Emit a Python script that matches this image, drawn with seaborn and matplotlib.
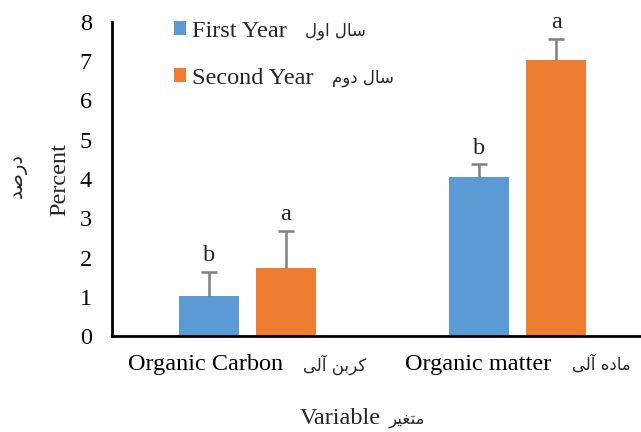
import matplotlib
matplotlib.use("Agg")
import matplotlib.pyplot as plt
import matplotlib.transforms as mtransforms
import seaborn as sns
import pandas as pd
from matplotlib.patches import Patch

# ---- data ----
categories_en = ["Organic Carbon", "Organic matter"]
categories_fa = ["کربن آلی", "ماده آلی"]
years_en = ["First Year", "Second Year"]
years_fa = ["سال اول", "سال دوم"]
first_year = [1.01, 4.06]
second_year = [1.74, 7.02]
first_year_err = [0.62, 0.31]
second_year_err = [0.94, 0.55]
first_year_letters = ["b", "b"]
second_year_letters = ["a", "a"]
yticks = [0, 1, 2, 3, 4, 5, 6, 7, 8]

# ---- minimal Persian shaping (presentation forms, right-to-left order) ----
FORMS = {
    "ا": ("\uFE8D", "\uFE8E", None, None),
    "آ": ("\uFE81", "\uFE82", None, None),
    "د": ("\uFEA9", "\uFEAA", None, None),
    "ر": ("\uFEAD", "\uFEAE", None, None),
    "و": ("\uFEED", "\uFEEE", None, None),
    "ب": ("\uFE8F", "\uFE90", "\uFE91", "\uFE92"),
    "ت": ("\uFE95", "\uFE96", "\uFE97", "\uFE98"),
    "س": ("\uFEB1", "\uFEB2", "\uFEB3", "\uFEB4"),
    "ص": ("\uFEB9", "\uFEBA", "\uFEBB", "\uFEBC"),
    "غ": ("\uFECD", "\uFECE", "\uFECF", "\uFED0"),
    "ل": ("\uFEDD", "\uFEDE", "\uFEDF", "\uFEE0"),
    "م": ("\uFEE1", "\uFEE2", "\uFEE3", "\uFEE4"),
    "ن": ("\uFEE5", "\uFEE6", "\uFEE7", "\uFEE8"),
    "ه": ("\uFEE9", "\uFEEA", "\uFEEB", "\uFEEC"),
    "ی": ("\uFBFC", "\uFBFD", "\uFBFE", "\uFBFF"),
    "ک": ("\uFB8E", "\uFB8F", "\uFB90", "\uFB91"),
}


def fa(text):
    out = []
    for i, ch in enumerate(text):
        if ch not in FORMS:
            out.append(ch)
            continue
        iso, fin, ini, med = FORMS[ch]
        prev = text[i - 1] if i > 0 else None
        nxt = text[i + 1] if i + 1 < len(text) else None
        join_prev = prev in FORMS and FORMS[prev][2] is not None
        join_next = nxt in FORMS and ini is not None
        if join_prev and join_next:
            out.append(med)
        elif join_prev:
            out.append(fin)
        elif join_next:
            out.append(ini)
        else:
            out.append(iso)
    return "".join(reversed(out))


# ---- figure ----
sns.set_theme(style="white")
FONT = ["Liberation Serif", "DejaVu Sans"]
FA_FONT = ["DejaVu Sans"]
plt.rcParams["font.family"] = FONT
FS = 17.5
FA_FS = 12

W, H = 641, 432
fig = plt.figure(figsize=(W / 100, H / 100), dpi=100)
ax_left, ax_right, ax_top, ax_bottom = 112, 653, 22, 336
ax = fig.add_axes([ax_left / W, 1 - ax_bottom / H,
                   (ax_right - ax_left) / W, (ax_bottom - ax_top) / H])

df = pd.DataFrame({
    "category": categories_en * 2,
    "year": [years_en[0]] * 2 + [years_en[1]] * 2,
    "value": first_year + second_year,
})
colors = ["#5B9BD5", "#ED7D31"]

sns.barplot(data=df, x="category", y="value", hue="year", order=categories_en,
            hue_order=years_en, palette=colors, width=0.57, gap=0.22,
            errorbar=None, linewidth=0, saturation=1, legend=False, ax=ax)

errs = [first_year_err, second_year_err]
vals = [first_year, second_year]
letters = [first_year_letters, second_year_letters]
bar_groups = list(ax.containers)
for k, cont in enumerate(bar_groups):
    for j, bar in enumerate(cont.patches):
        xc = bar.get_x() + bar.get_width() / 2
        eb = ax.errorbar(xc, vals[k][j], yerr=[[0], [errs[k][j]]], fmt="none",
                         ecolor="#7f7f7f", elinewidth=1.8, capsize=5.5,
                         capthick=1.8, zorder=3)
        eb[1][0].set_visible(False)  # only the upper cap
        ax.text(xc, vals[k][j] + errs[k][j] + 0.15, letters[k][j],
                ha="center", va="bottom", fontsize=FS, family=FONT)

ax.set_xlim(-0.5, 1.5)
ax.set_ylim(0, 8)
ax.set_yticks(yticks)
ax.tick_params(axis="both", length=0, labelsize=FS, colors="black")
ax.tick_params(axis="x", pad=13)
ax.tick_params(axis="y", pad=14.5)
for lbl in ax.get_xticklabels() + ax.get_yticklabels():
    lbl.set_family(FONT)
ax.set_xlabel("")
ax.set_ylabel("")

sns.despine(ax=ax, top=True, right=True)
for side in ("left", "bottom"):
    ax.spines[side].set_color("black")
    ax.spines[side].set_linewidth(2)

# legend
handles = [Patch(facecolor=c, edgecolor="none") for c in colors]
leg = ax.legend(handles, years_en, loc="upper left", frameon=False,
                bbox_to_anchor=(174 / W, 1 - 21 / H),
                bbox_transform=fig.transFigure,
                prop={"family": FONT, "size": FS}, handlelength=0.5,
                handleheight=0.5, handletextpad=0.25, labelspacing=1.05,
                borderpad=0, borderaxespad=0)

# axis titles
xt = fig.text(300 / W, 1 - 419 / H, "Variable", ha="left", va="center",
              fontsize=FS, family=FONT)
fig.text(60 / W, 1 - 179 / H, "Percent", ha="center", va="center",
         rotation=90, fontsize=FS, family=FONT)
fig.text(17 / W, 1 - 176 / H, fa("درصد"), ha="center", va="center",
         rotation=90, fontsize=14, family=FA_FONT)

# lay out once so every English label has a measured position
fig.canvas.draw()
renderer = fig.canvas.get_renderer()


def text_width(s):
    probe = fig.text(0, 0, s, fontsize=FA_FS, family=FA_FONT)
    w = probe.get_window_extent(renderer).width
    probe.remove()
    return w


def add_persian_after(bbox, persian, gap_px):
    """Put Persian text just to the right of an English label's box."""
    x = (bbox.x1 + gap_px) / W
    y = (bbox.y0 + bbox.y1) / 2 / H
    fig.text(x, y, fa(persian), ha="left", va="center", fontsize=FA_FS,
             family=FA_FONT)


# category labels: English tick label followed by its Persian name,
# the pair centred under each group
TICK_GAP = 20
for lbl, p in zip(ax.get_xticklabels(), categories_fa):
    shift = -(TICK_GAP + text_width(fa(p))) / 2
    lbl.set_transform(lbl.get_transform() +
                      mtransforms.ScaledTranslation(shift / 100, 0,
                                                    fig.dpi_scale_trans))
fig.canvas.draw()
for lbl, p in zip(ax.get_xticklabels(), categories_fa):
    add_persian_after(lbl.get_window_extent(renderer), p, TICK_GAP)

for t, p in zip(leg.get_texts(), years_fa):
    add_persian_after(t.get_window_extent(renderer), p, 18)

add_persian_after(xt.get_window_extent(renderer), "متغیر", 7)

fig.savefig("out.png", dpi=100)
